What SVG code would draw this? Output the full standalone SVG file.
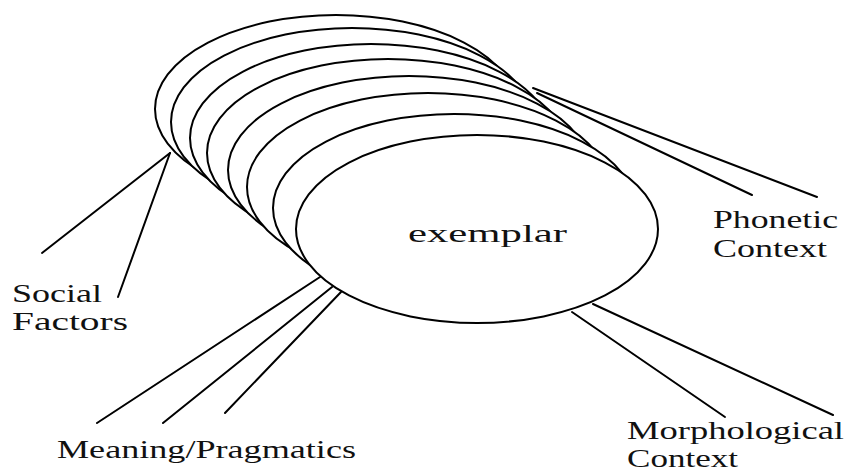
<svg xmlns="http://www.w3.org/2000/svg" width="846" height="473" viewBox="0 0 846 473">
<style>
.ell{fill:#fff;stroke:#000;stroke-width:2}
.con line{stroke:#000;stroke-width:2;stroke-linecap:round}
text{font-family:"Liberation Serif","Times New Roman",serif;fill:#111;font-size:26px}
</style>
<rect width="846" height="473" fill="#fff"/>
<g id="exemplar">
<ellipse class="ell" cx="336" cy="109" rx="181" ry="94"/>
<ellipse class="ell" cx="352" cy="122" rx="181" ry="94"/>
<ellipse class="ell" cx="371" cy="138" rx="181" ry="94"/>
<ellipse class="ell" cx="388" cy="153" rx="181" ry="94"/>
<ellipse class="ell" cx="409" cy="170" rx="181" ry="94"/>
<ellipse class="ell" cx="428" cy="187" rx="181" ry="94"/>
<ellipse class="ell" cx="454" cy="208" rx="181" ry="94"/>
<ellipse class="ell" cx="477" cy="229" rx="181" ry="94"/>
<text x="408" y="242" textLength="159" lengthAdjust="spacingAndGlyphs" font-size="28">exemplar</text>
</g>
<g id="connectors" class="con">
<line x1="170" y1="153" x2="42" y2="253"/>
<line x1="170" y1="153" x2="118" y2="297"/>
<line x1="320" y1="277" x2="97" y2="423"/>
<line x1="332" y1="287" x2="163" y2="423"/>
<line x1="341" y1="292" x2="225" y2="413"/>
<line x1="533" y1="88" x2="817" y2="197"/>
<line x1="537" y1="93" x2="752" y2="195"/>
<line x1="572" y1="312" x2="725" y2="417"/>
<line x1="593" y1="304" x2="833" y2="415"/>
</g>
<g id="social-factors">
<text x="12" y="302" textLength="90" lengthAdjust="spacingAndGlyphs">Social</text>
<text x="12" y="330" textLength="116" lengthAdjust="spacingAndGlyphs">Factors</text>
</g>
<g id="meaning-pragmatics">
<text x="57" y="458" textLength="299" lengthAdjust="spacingAndGlyphs">Meaning/Pragmatics</text>
</g>
<g id="phonetic-context">
<text x="713" y="228" textLength="125" lengthAdjust="spacingAndGlyphs">Phonetic</text>
<text x="713" y="257" textLength="114" lengthAdjust="spacingAndGlyphs">Context</text>
</g>
<g id="morphological-context">
<text x="627" y="439" textLength="217" lengthAdjust="spacingAndGlyphs" font-size="24">Morphological</text>
<text x="627" y="467" textLength="111" lengthAdjust="spacingAndGlyphs" font-size="24">Context</text>
</g>
</svg>
